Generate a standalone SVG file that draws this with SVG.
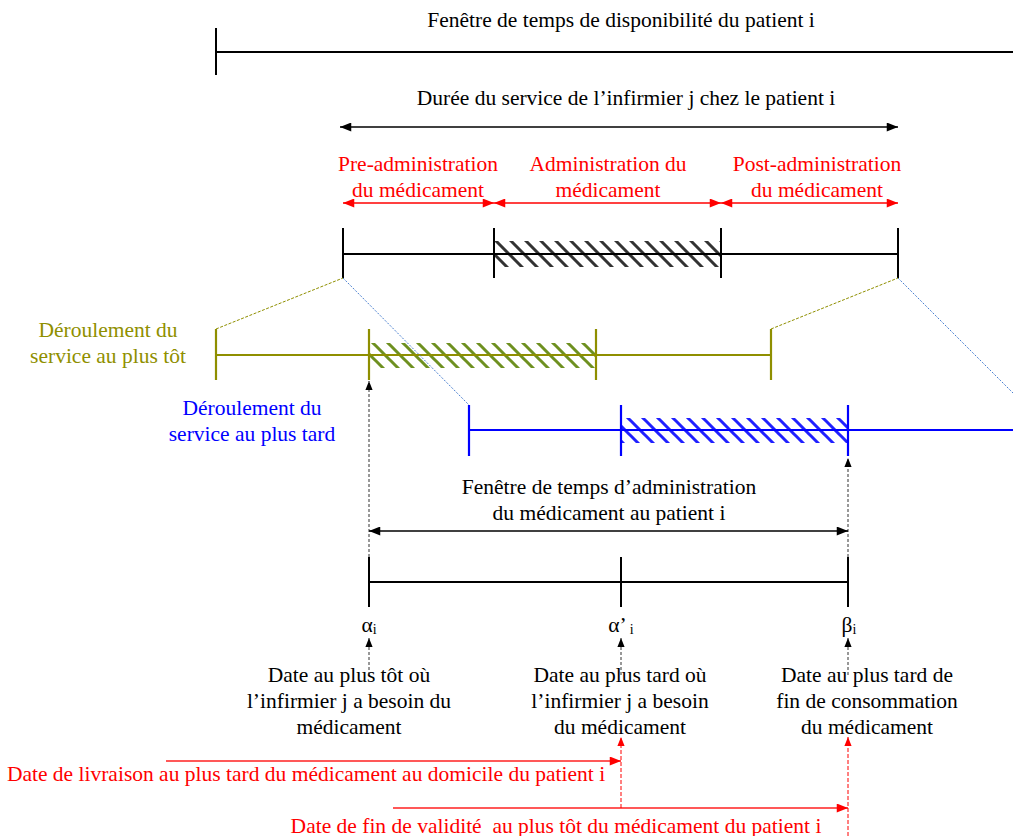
<svg xmlns="http://www.w3.org/2000/svg" width="1013" height="836" viewBox="0 0 1013 836">
<style>
text{font-family:"Liberation Serif","Times New Roman",serif;font-size:21.5px;text-anchor:middle}
.k{fill:#000}.r{fill:#ff0000}.o{fill:#8f8f00}.b{fill:#0000ff}
.tl{stroke:#000;stroke-width:2;fill:none}
.tlo{stroke:#8f8f00;stroke-width:2.2;fill:none}
.tlb{stroke:#0000ff;stroke-width:2.2;fill:none}
.da{stroke:#000;stroke-width:1.3;fill:none;marker-start:url(#ak);marker-end:url(#ak)}
.dr{stroke:#ff0000;stroke-width:1.3;fill:none;marker-start:url(#ar);marker-end:url(#ar)}
.dash{stroke:#333;stroke-width:1;stroke-dasharray:3 2;fill:none}
.dashr{stroke:#ff0000;stroke-width:1;stroke-dasharray:4 2;fill:none}
.od{stroke:#8f8f00;stroke-width:1;stroke-dasharray:3 1.5;fill:none}
.bd{stroke:#4a7fd0;stroke-width:1;stroke-dasharray:2 1.5;fill:none}
.ra{stroke:#ff2020;stroke-width:1.3;fill:none;marker-end:url(#ar)}
</style>
<defs>
<marker id="ak" viewBox="0 0 10 8" refX="10" refY="4" markerWidth="12" markerHeight="9" markerUnits="userSpaceOnUse" orient="auto-start-reverse"><path d="M0,0L10,4L0,8z" fill="#000"/></marker>
<marker id="ar" viewBox="0 0 10 8" refX="10" refY="4" markerWidth="12" markerHeight="9" markerUnits="userSpaceOnUse" orient="auto-start-reverse"><path d="M0,0L10,4L0,8z" fill="#ff0000"/></marker>
<marker id="up" viewBox="0 0 10 8" refX="10" refY="4" markerWidth="9" markerHeight="8" markerUnits="userSpaceOnUse" orient="auto"><path d="M0,0L10,4L0,8z" fill="#000"/></marker>
<marker id="upr" viewBox="0 0 10 8" refX="10" refY="4" markerWidth="9" markerHeight="8" markerUnits="userSpaceOnUse" orient="auto"><path d="M0,0L10,4L0,8z" fill="#ff0000"/></marker>
<pattern id="hk" patternUnits="userSpaceOnUse" width="15" height="15"><path d="M0,0L15,15M-2,13L2,17M13,-2L17,2" stroke="#333" stroke-width="3"/></pattern>
<pattern id="ho" patternUnits="userSpaceOnUse" width="15" height="15"><path d="M0,0L15,15M-2,13L2,17M13,-2L17,2" stroke="#6e9020" stroke-width="3"/></pattern>
<pattern id="hb" patternUnits="userSpaceOnUse" width="15" height="15"><path d="M0,0L15,15M-2,13L2,17M13,-2L17,2" stroke="#2020ff" stroke-width="3"/></pattern>
</defs>

<g id="dispo">
<text class="k" x="621" y="27">Fenêtre de temps de disponibilité du patient i</text>
<path class="tl" d="M216,28V75M216,52H1013"/>
</g>

<g id="duree">
<text class="k" x="626" y="105">Durée du service de l’infirmier j chez le patient i</text>
</g>

<g id="phases">
<text class="r" x="418" y="171">Pre-administration</text>
<text class="r" x="418" y="197">du médicament</text>
<text class="r" x="608" y="171">Administration du</text>
<text class="r" x="608" y="197">médicament</text>
<text class="r" x="817" y="171">Post-administration</text>
<text class="r" x="817" y="197">du médicament</text>
</g>

<g id="service">
<rect x="494" y="241" width="227" height="26" fill="url(#hk)"/>
<path class="tl" d="M343,254H898M343,228V278M494,228V278M721,228V278M898,228V278"/>
</g>

<g id="tot">
<text class="o" x="108" y="337">Déroulement du</text>
<text class="o" x="108" y="363">service au plus tôt</text>
<rect x="369" y="343" width="227" height="25" fill="url(#ho)"/>
<path class="tlo" d="M216,355H771M216,329V380M369,329V380M596,329V380M771,329V380"/>
</g>

<g id="tard">
<text class="b" x="252" y="415">Déroulement du</text>
<text class="b" x="252" y="441">service au plus tard</text>
<rect x="621" y="418" width="227" height="25" fill="url(#hb)"/>
<path class="tlb" d="M469,430H1013M469,405V456M621,405V456M848,405V456"/>
</g>

<g id="fenetre">
<text class="k" x="609" y="494">Fenêtre de temps d’administration</text>
<text class="k" x="609" y="520">du médicament au patient i</text>
</g>

<g id="dates">
<path class="tl" d="M369,582H848M369,557V607M621,557V607M848,557V607"/>
<text class="k" x="369" y="632">α<tspan font-size="14" dy="2">i</tspan></text>
<text class="k" x="621" y="632">α’<tspan font-size="14" dy="2" dx="3">i</tspan></text>
<text class="k" x="849" y="632">β<tspan font-size="14" dy="2">i</tspan></text>
</g>

<g id="besoin-tot">
<text class="k" x="349" y="682">Date au plus tôt où</text>
<text class="k" x="349" y="708">l’infirmier j a besoin du</text>
<text class="k" x="349" y="734">médicament</text>
</g>
<g id="besoin-tard">
<text class="k" x="620" y="682">Date au plus tard où</text>
<text class="k" x="620" y="708">l’infirmier j a besoin</text>
<text class="k" x="620" y="734">du médicament</text>
</g>
<g id="consommation">
<text class="k" x="867" y="682">Date au plus tard de</text>
<text class="k" x="867" y="708">fin de consommation</text>
<text class="k" x="867" y="734">du médicament</text>
</g>

<g id="livraison">
<text class="r" x="306" y="781">Date de livraison au plus tard du médicament au domicile du patient i</text>
</g>
<g id="validite">
<text class="r" x="556" y="833">Date de fin de validité&#160; au plus tôt du médicament du patient i</text>
</g>

<g id="connectors">
<path class="da" d="M340,127H898"/>
<path class="dr" d="M343,203H494"/>
<path class="dr" d="M494,203H721"/>
<path class="dr" d="M721,203H898"/>
<path class="od" d="M216,329L343,278"/>
<path class="od" d="M771,329L898,278"/>
<path class="bd" d="M343,278L469,405"/>
<path class="bd" d="M898,278L1013,393"/>
<path class="dash" d="M369,557V381" marker-end="url(#up)"/>
<path class="dash" d="M848,557V458" marker-end="url(#up)"/>
<path class="da" d="M369,531H848"/>
<path class="dash" d="M369,675V638" marker-end="url(#up)"/>
<path class="dash" d="M621,675V638" marker-end="url(#up)"/>
<path class="dash" d="M848,675V638" marker-end="url(#up)"/>
<path class="ra" d="M166,761H621"/>
<path class="ra" d="M393,808H848"/>
<path class="dashr" d="M621,808V737" marker-end="url(#upr)"/>
<path class="dashr" d="M848,836V737" marker-end="url(#upr)"/>
</g>
</svg>
